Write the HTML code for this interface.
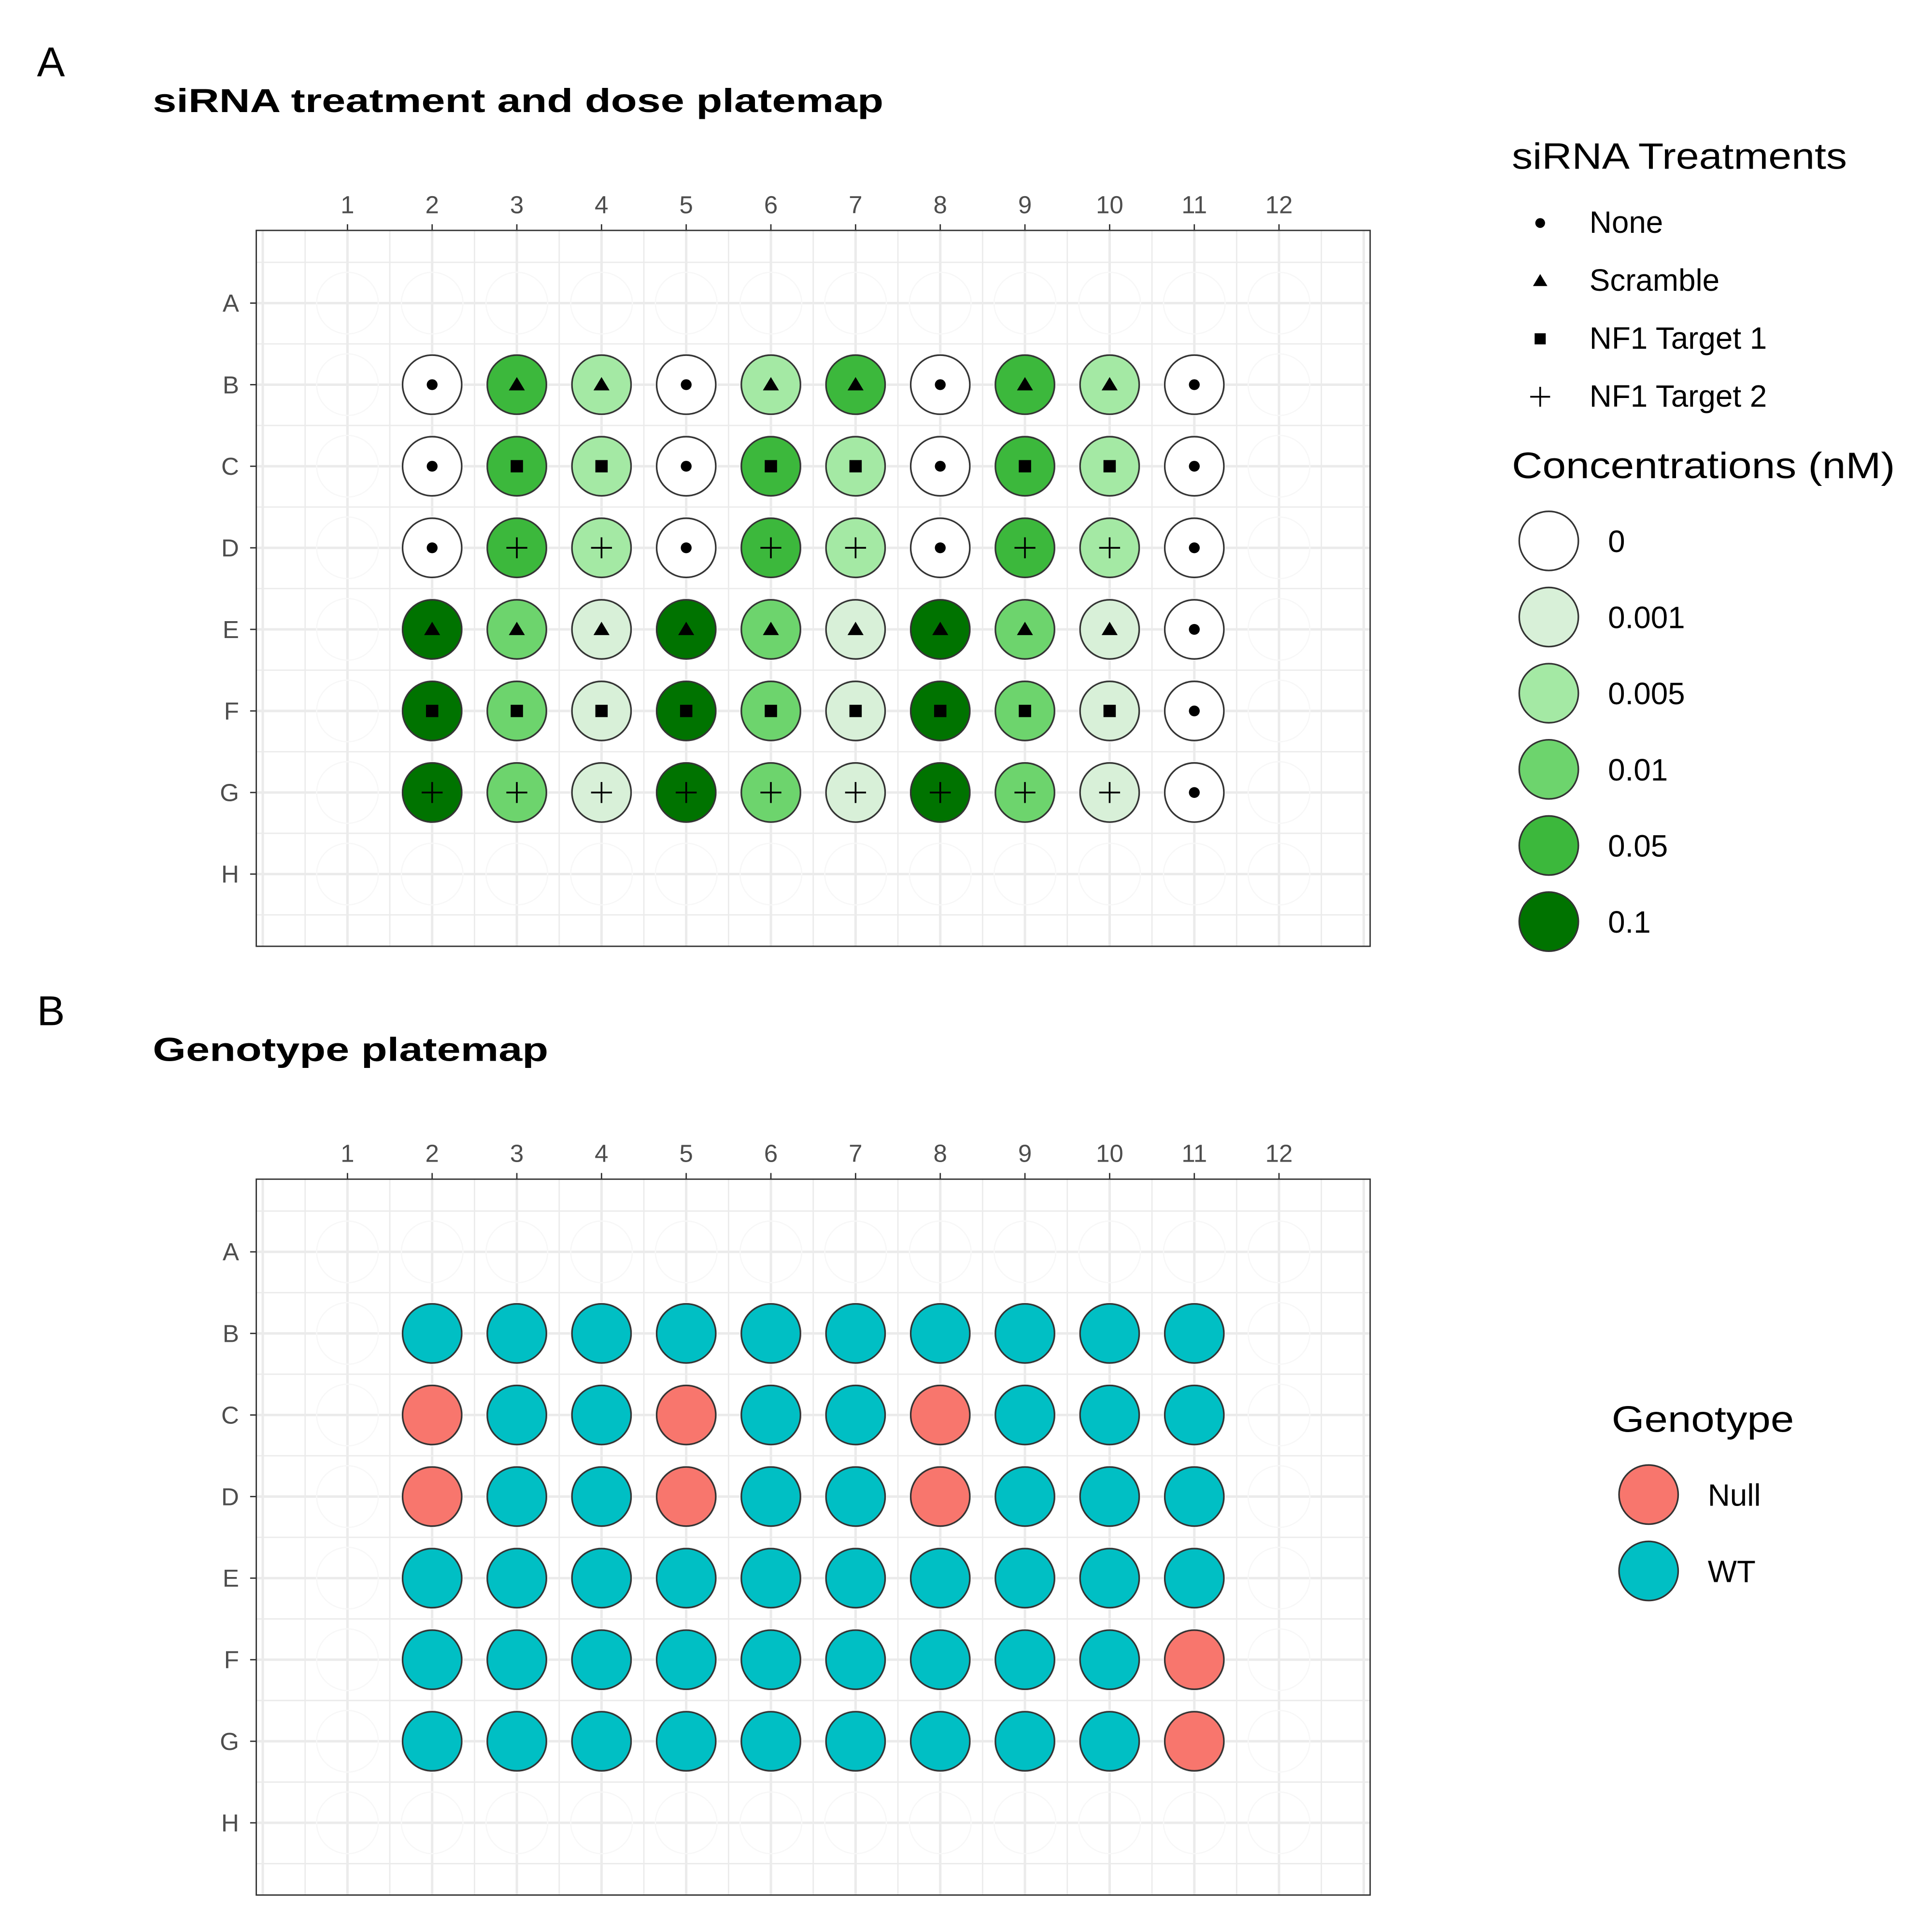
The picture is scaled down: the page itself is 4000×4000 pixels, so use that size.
<!DOCTYPE html>
<html><head><meta charset="utf-8">
<style>
html,body{margin:0;padding:0;background:#fff;}
svg{display:block;}
text{font-family:"Liberation Sans",sans-serif;}
</style></head>
<body>
<svg id="fig" width="4000" height="4000" viewBox="0 0 1568 1568" xmlns="http://www.w3.org/2000/svg">
<rect x="0" y="0" width="1568" height="1568" fill="#fff"/>
<text x="30" y="62" font-size="34">A</text>
<text x="124" y="91" font-size="27" font-weight="bold" textLength="593" lengthAdjust="spacingAndGlyphs">siRNA treatment and dose platemap</text>
<text x="30" y="832" font-size="34">B</text>
<text x="124" y="861" font-size="27" font-weight="bold" textLength="321" lengthAdjust="spacingAndGlyphs">Genotype platemap</text>
<g id="panelA"></g>
<g id="panelB"></g>
<g id="legends"></g>
</svg>
<script>
const NS="http://www.w3.org/2000/svg";
// ---- data ----
const rowLabels=["A","B","C","D","E","F","G","H"];
const colLabels=[1,2,3,4,5,6,7,8,9,10,11,12];
const treatmentNames=["None","Scramble","NF1 Target 1","NF1 Target 2"];
const concLevels=[0,0.001,0.005,0.01,0.05,0.1];
const concColors=["#ffffff","#d8f0d8","#a4e9a4","#6dd46d","#3cb83c","#007300"];
const genoNames=["Null","WT"];
const genoColors=["#F8766D","#00BFC4"];
// wells rows B..G (index 1..6), cols 2..11
const wellRows=[1,2,3,4,5,6];
const wellCols=[2,3,4,5,6,7,8,9,10,11];
const treatment=[
 [0,1,1,0,1,1,0,1,1,0],
 [0,2,2,0,2,2,0,2,2,0],
 [0,3,3,0,3,3,0,3,3,0],
 [1,1,1,1,1,1,1,1,1,0],
 [2,2,2,2,2,2,2,2,2,0],
 [3,3,3,3,3,3,3,3,3,0]];
const concentration=[
 [0,0.05,0.005,0,0.005,0.05,0,0.05,0.005,0],
 [0,0.05,0.005,0,0.05,0.005,0,0.05,0.005,0],
 [0,0.05,0.005,0,0.05,0.005,0,0.05,0.005,0],
 [0.1,0.01,0.001,0.1,0.01,0.001,0.1,0.01,0.001,0],
 [0.1,0.01,0.001,0.1,0.01,0.001,0.1,0.01,0.001,0],
 [0.1,0.01,0.001,0.1,0.01,0.001,0.1,0.01,0.001,0]];
const genotype=[
 [1,1,1,1,1,1,1,1,1,1],
 [0,1,1,0,1,1,0,1,1,1],
 [0,1,1,0,1,1,0,1,1,1],
 [1,1,1,1,1,1,1,1,1,1],
 [1,1,1,1,1,1,1,1,1,0],
 [1,1,1,1,1,1,1,1,1,0]];

function el(tag,attrs,parent){const e=document.createElementNS(NS,tag);for(const k in attrs)e.setAttribute(k,attrs[k]);parent.appendChild(e);return e;}
function txt(s,attrs,parent){const e=el("text",attrs,parent);e.textContent=s;return e;}

function marker(g,t,cx,cy,scale){
  let m;
  if(t===0){m=el("circle",{cx:cx,cy:cy,r:4.4*scale,fill:"#000"},g);}
  else if(t===1){const h=6.2*scale;m=el("polygon",{points:`${cx},${cy-h} ${cx-h*1.05},${cy+h*0.75} ${cx+h*1.05},${cy+h*0.75}`,fill:"#000"},g);}
  else if(t===2){const h=5*scale;m=el("rect",{x:cx-h,y:cy-h,width:2*h,height:2*h,fill:"#000"},g);}
  else {const h=8.5*scale;m=el("path",{d:`M${cx-h},${cy}H${cx+h}M${cx},${cy-h}V${cy+h}`,stroke:"#000","stroke-width":1.4,fill:"none"},g);}
  return m;
}

function panel(g,top,kind){
  const L=208,R=1112,T=top,B=top+581;
  const x0=282,dx=68.73,y0=top+59,dy=66.2;
  const X=c=>x0+(c-1)*dx, Y=r=>y0+r*dy;
  el("rect",{x:L,y:T,width:R-L,height:B-T,fill:"#fff"},g);
  for(let c=0;c<=13;c+=0.5){const x=X(c);if(x<L||x>R)continue;
    const gl=el("line",{x1:x,x2:x,y1:T,y2:B,stroke:"#ebebeb","stroke-width":Number.isInteger(c)?2:1.1},g);
    
    }
  for(let r=-0.5;r<=8;r+=0.5){const y=Y(r);if(y<T||y>B)continue;
    const gl=el("line",{x1:L,x2:R,y1:y,y2:y,stroke:"#ebebeb","stroke-width":Number.isInteger(r)?2:1.1},g);
    
    }
  for(let r=0;r<8;r++)for(let c=1;c<=12;c++){
    const w=el("circle",{cx:X(c),cy:Y(r),r:25,fill:"none",stroke:"#f7f7f7","stroke-width":1},g);
    
    }
  wellRows.forEach((r,i)=>wellCols.forEach((c,j)=>{
    let fill;
    if(kind==="A"){fill=concColors[concLevels.indexOf(concentration[i][j])];}
    else fill=genoColors[genotype[i][j]];
    const w=el("circle",{cx:X(c),cy:Y(r),r:24,fill:fill,stroke:"#333","stroke-width":1.3},g);
    
    
    if(kind==="A"){const m=marker(g,treatment[i][j],X(c),Y(r),1);
      
      }
  }));
  el("rect",{x:L,y:T,width:R-L,height:B-T,fill:"none",stroke:"#333","stroke-width":1.1},g);
  colLabels.forEach(c=>{const x=X(c);
    el("line",{x1:x,x2:x,y1:T-5,y2:T,stroke:"#333","stroke-width":1.1},g);
    const t=txt(String(c),{x:x,y:T-14,"font-size":20,fill:"#4d4d4d","text-anchor":"middle"},g);
    
    });
  rowLabels.forEach((rl,r)=>{const y=Y(r);
    el("line",{x1:L-5,x2:L,y1:y,y2:y,stroke:"#333","stroke-width":1.1},g);
    const t=txt(rl,{x:L-14,y:y+7,"font-size":20,fill:"#4d4d4d","text-anchor":"end"},g);
    
    });
}
panel(document.getElementById("panelA"),187,"A");
panel(document.getElementById("panelB"),957,"B");

const lg=document.getElementById("legends");
let t=txt("siRNA Treatments",{x:1227,y:137,"font-size":30,textLength:272,lengthAdjust:"spacingAndGlyphs"},lg);


treatmentNames.forEach((n,i)=>{const y=181+i*47;
  const m=marker(lg,i,1250,y,i===3?0.95:0.9);
  
  
  const tt=txt(n,{x:1290,y:y+8,"font-size":25},lg);
  
  });
t=txt("Concentrations (nM)",{x:1227,y:388,"font-size":30,textLength:311,lengthAdjust:"spacingAndGlyphs"},lg);


concLevels.forEach((v,i)=>{const y=439+i*61.8;
  const c=el("circle",{cx:1257,cy:y,r:24,fill:concColors[i],stroke:"#333","stroke-width":1.3},lg);
  
  
  const tt=txt(String(v),{x:1305,y:y+9,"font-size":25},lg);
  
  });
t=txt("Genotype",{x:1308,y:1162,"font-size":30,textLength:148,lengthAdjust:"spacingAndGlyphs"},lg);


genoNames.forEach((n,i)=>{const y=1213+i*62;
  const c=el("circle",{cx:1338,cy:y,r:24,fill:genoColors[i],stroke:"#333","stroke-width":1.3},lg);
  
  
  const tt=txt(n,{x:1386,y:y+9,"font-size":25},lg);
  
  });
</script>
</body></html>
